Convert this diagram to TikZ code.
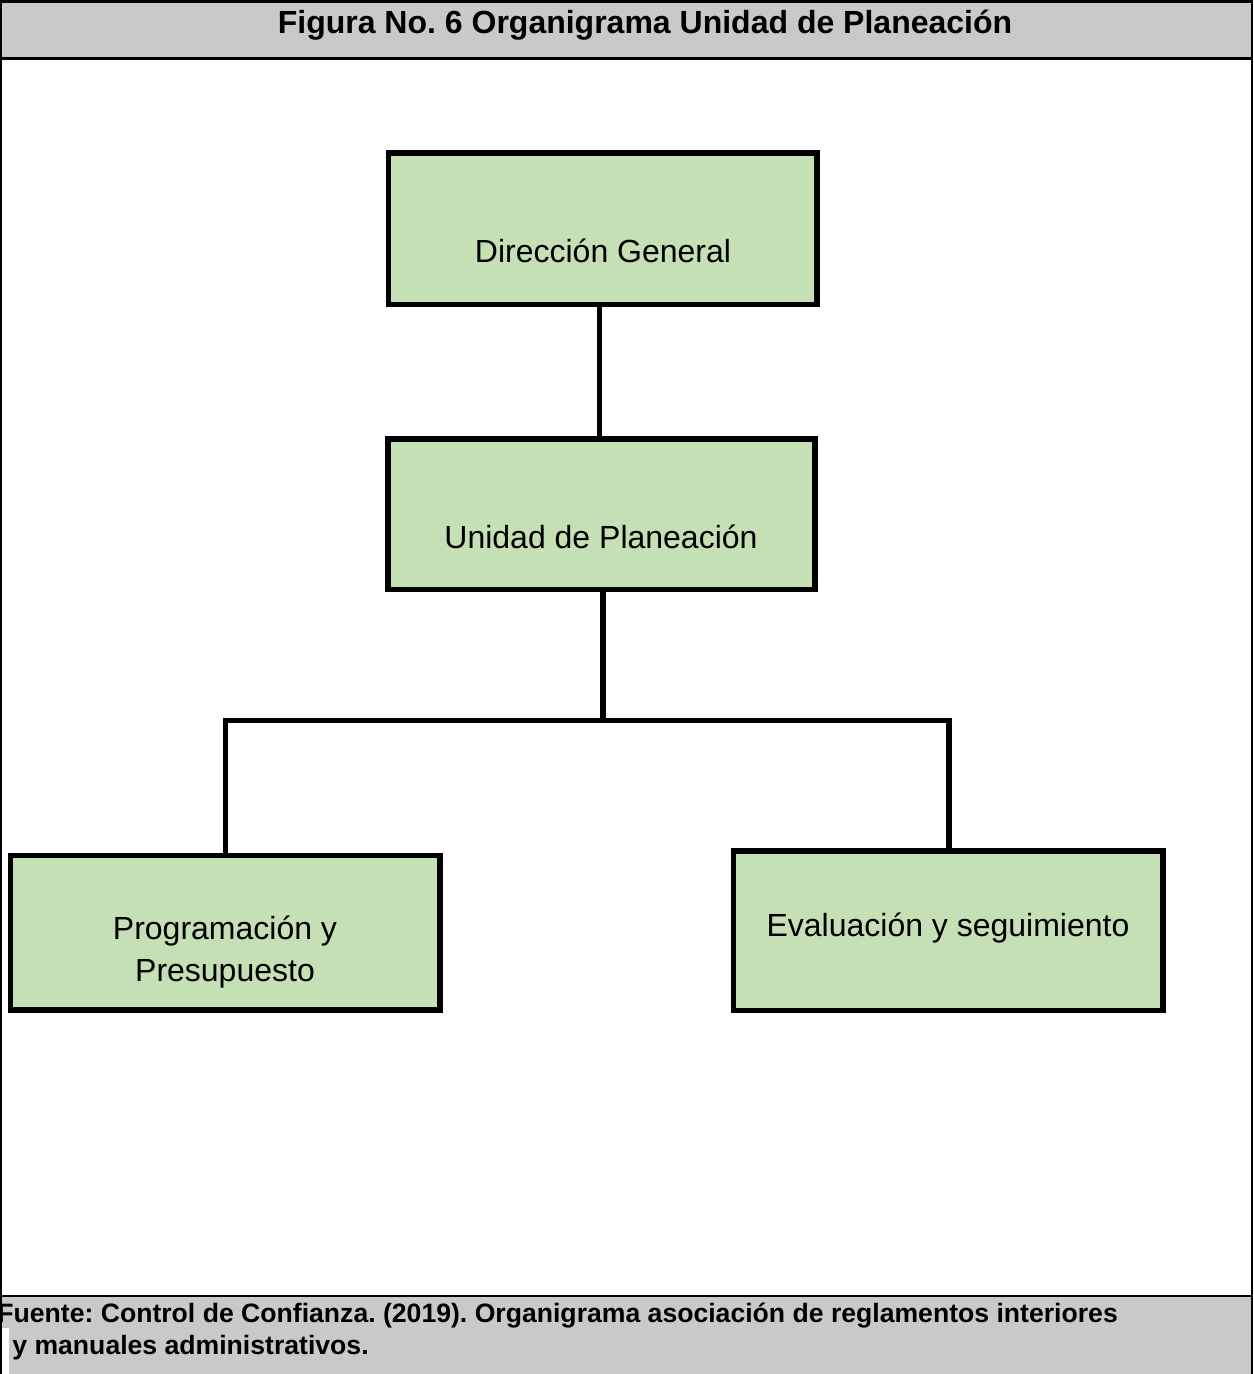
\documentclass[tikz,border=0pt]{standalone}
\usepackage{fontspec}
\setmainfont{Liberation Sans}
\definecolor{boxgreen}{HTML}{C5E0B4}
\definecolor{bandgray}{HTML}{C9C9C9}
\frenchspacing
\begin{document}
\begin{tikzpicture}[x=0.5pt,y=-0.5pt,
  orgbox/.style={draw=black, fill=boxgreen, line width=2.8pt, rectangle, inner sep=0pt},
  boxtext/.style={anchor=base, font=\fontsize{16}{19}\selectfont, inner sep=0pt},
  conn/.style={draw=black, line width=2.8pt, line join=miter},
  frameline/.style={draw=black, line width=1.2pt}]
\useasboundingbox (0,0) rectangle (1253,1374);
% header and footer bands
\fill[bandgray] (0,0) rectangle (1253,58.5);
\fill[bandgray] (0,1296) rectangle (1253,1374);
\fill[white] (2,1328) rectangle (9,1374);
\draw[black, line width=1.6pt] (0,1.5) -- (1253,1.5);
\draw[black, line width=1.6pt] (0,58.5) -- (1253,58.5);
\draw[black, line width=1.4pt] (0,1296) -- (1253,1296);
\draw[frameline] (1,0) -- (1,1374);
\draw[frameline] (1252,0) -- (1252,1374);
% title and source
\node[anchor=base, inner sep=0pt, font=\bfseries\fontsize{16}{19}\selectfont] (title) at (645,34) {Figura No. 6 Organigrama Unidad de Planeación};
\node[anchor=base west, inner sep=0pt, font=\bfseries\fontsize{13.3}{16}\selectfont] (src1) at (-3,1322.5) {Fuente: Control de Confianza. (2019). Organigrama asociación de reglamentos interiores};
\node[anchor=base west, inner sep=0pt, font=\bfseries\fontsize{13.3}{16}\selectfont] (src2) at (12,1354) {y manuales administrativos.};
% boxes
\node[orgbox, minimum width=214.25pt, minimum height=75.75pt] (dg) at (602.75,228.75) {};
\node[orgbox, minimum width=213.5pt, minimum height=75.25pt] (up) at (601.5,514.25) {};
\node[orgbox, minimum width=214.75pt, minimum height=77.25pt] (pp) at (225.25,932.75) {};
\node[orgbox, minimum width=214.75pt, minimum height=79.75pt] (es) at (948.25,930.75) {};
% texts
\node[boxtext] (dgt) at (603,263) {Dirección General};
\node[boxtext] (upt) at (601,548.5) {Unidad de Planeación};
\node[boxtext] (ppt1) at (225,939.5) {Programación y};
\node[boxtext] (ppt2) at (225,981.5) {Presupuesto};
\node[boxtext] (est) at (948,936.5) {Evaluación y seguimiento};
% connectors
\coordinate (j1) at (599.5,370);
\coordinate (bus) at (603,720.5);
\coordinate (bl) at (225.5,720.5);
\coordinate (br) at (949,720.5);
\draw[conn] (dg.south -| j1) -- (up.north -| j1);
\draw[conn] (up.south -| bus) -- (bus);
\draw[conn] (pp.north -| bl) -- (bl) -- (br) -- (es.north -| br);
\end{tikzpicture}
\end{document}
